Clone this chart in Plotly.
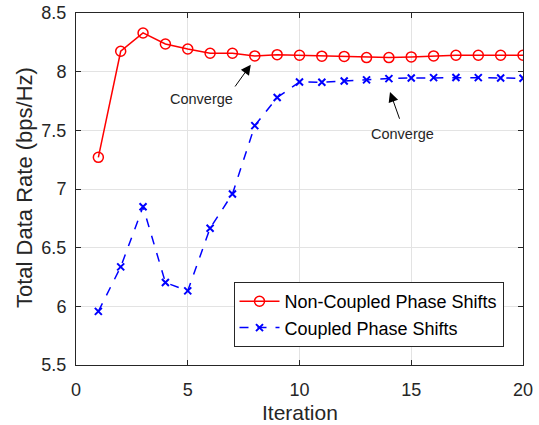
import plotly.graph_objects as go

iterations = list(range(1, 21))
non_coupled = [7.27, 8.174, 8.33, 8.236, 8.193, 8.157, 8.157, 8.134, 8.145, 8.14,
               8.132, 8.13, 8.12, 8.12, 8.126, 8.134, 8.14, 8.14, 8.14, 8.14]
coupled = [5.957, 6.336, 6.848, 6.203, 6.132, 6.666, 6.958, 7.54, 7.78, 7.912,
           7.91, 7.921, 7.93, 7.941, 7.946, 7.949, 7.95, 7.949, 7.946, 7.944]

font_family = "Liberation Sans, Arial, sans-serif"
txt = "#262626"

fig = go.Figure()
fig.add_trace(go.Scatter(
    x=iterations, y=non_coupled, mode="lines+markers",
    name="Non-Coupled Phase Shifts",
    line=dict(color="#ff0000", width=1.5),
    marker=dict(symbol="circle-open", size=10, color="#ff0000", line=dict(width=1.5)),
))
fig.add_trace(go.Scatter(
    x=iterations, y=coupled, mode="lines+markers",
    name="Coupled Phase Shifts",
    line=dict(color="#0000ff", width=1.5, dash="dash"),
    marker=dict(symbol="x-thin-open", size=7, color="#0000ff", line=dict(width=2, color="#0000ff")),
))

axis_common = dict(
    showgrid=True, gridcolor="#e3e3e3", gridwidth=1,
    showline=True, linecolor=txt, linewidth=1, mirror="allticks",
    ticks="inside", ticklen=5, tickcolor=txt,
    tickfont=dict(size=18, color=txt, family=font_family),
    zeroline=False, automargin=False,
)

fig.update_xaxes(range=[0, 20], tickvals=[0, 5, 10, 15, 20], ticklabelstandoff=8,
                 **axis_common)
fig.update_yaxes(range=[5.5, 8.5], tickvals=[5.5, 6, 6.5, 7, 7.5, 8, 8.5],
                 ticktext=["5.5", "6", "6.5", "7", "7.5", "8", "8.5"], ticklabelstandoff=5,
                 **axis_common)

annotations = [
    dict(x=7.82, y=8.06, ax=7.07, ay=7.861, xref="x", yref="y", axref="x", ayref="y",
         showarrow=True, arrowhead=2, arrowsize=2, arrowwidth=1, arrowcolor="black", text=""),
    dict(x=14.05, y=7.827, ax=14.5, ay=7.586, xref="x", yref="y", axref="x", ayref="y",
         showarrow=True, arrowhead=2, arrowsize=2, arrowwidth=1, arrowcolor="black", text=""),
    dict(x=5.62, y=7.771, xref="x", yref="y", text="Converge", showarrow=False,
         font=dict(size=14.5, color=txt, family=font_family)),
    dict(x=14.59, y=7.473, xref="x", yref="y", text="Converge", showarrow=False,
         font=dict(size=14.5, color=txt, family=font_family)),
]

# axis titles placed at pixel positions (converted to paper coordinates)
plot_l, plot_r, plot_t, plot_b = 76, 523, 13, 365
def px_to_paper(px, py):
    return (px - plot_l) / (plot_r - plot_l), ((425 - py) - (425 - plot_b)) / (plot_b - plot_t)

yx, yy = px_to_paper(24, 188)
annotations.append(dict(x=yx, y=yy, xref="paper", yref="paper", text="Total Data Rate (bps/Hz)",
                        showarrow=False, textangle=-90, xanchor="center", yanchor="middle",
                        font=dict(size=22, color=txt, family=font_family)))
xx, xy = px_to_paper(299.5, 412.5)
annotations.append(dict(x=xx, y=xy, xref="paper", yref="paper", text="Iteration",
                        showarrow=False, xanchor="center", yanchor="middle",
                        font=dict(size=21, color=txt, family=font_family)))

lx, ly = px_to_paper(233.5, 282)
fig.update_layout(
    width=539, height=425,
    margin=dict(l=plot_l, r=539 - plot_r, t=plot_t, b=425 - plot_b),
    paper_bgcolor="white", plot_bgcolor="white",
    font=dict(family=font_family, color=txt),
    annotations=annotations,
    legend=dict(x=lx, y=ly, xanchor="left", yanchor="top",
                bgcolor="white", bordercolor=txt, borderwidth=1,
                font=dict(size=18, color="black", family=font_family),
                tracegroupgap=0, itemwidth=40),
    showlegend=True,
)

fig.write_html("out.html")
